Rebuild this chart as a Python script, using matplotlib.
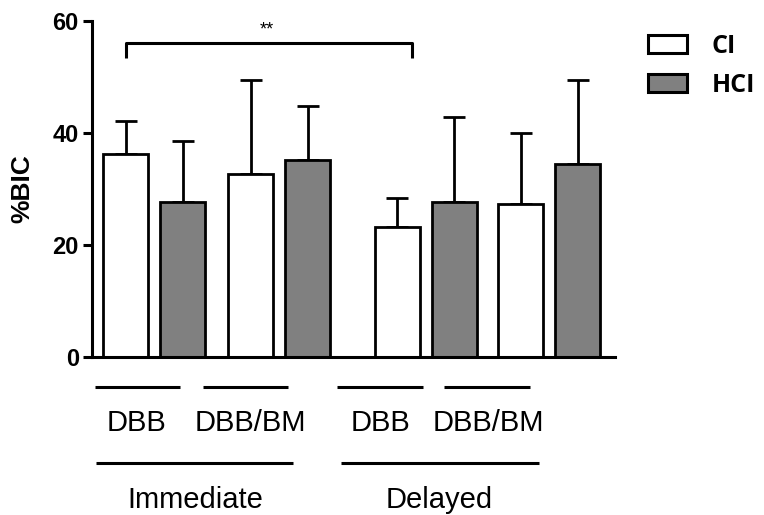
import numpy as np
import matplotlib
matplotlib.use("Agg")
import matplotlib.pyplot as plt
from matplotlib.patches import Patch
from matplotlib.transforms import blended_transform_factory

# %BIC means and SD (upper error only) per condition
subgroups = ["DBB", "DBB/BM", "DBB", "DBB/BM"]
timings = ["Immediate", "Delayed"]
series_names = ["CI", "HCI"]
ci_mean = [36.2, 32.6, 23.1, 27.3]
ci_sd = [6.0, 16.8, 5.3, 12.7]
hci_mean = [27.6, 35.2, 27.6, 34.5]
hci_sd = [11.0, 9.6, 15.2, 14.9]
yticks = [0, 20, 40, 60]

plt.rcParams["font.family"] = ["Liberation Sans", "DejaVu Sans"]

fig = plt.figure(figsize=(7.64, 5.15), dpi=100)
ax = fig.add_axes([0.1204, 0.3074, 0.6846, 0.6518])

centers = np.array([0.0, 2.19, 4.76, 6.93])
off = 0.5
width = 0.79
lw = 2.0

err_kw = dict(elinewidth=lw, capthick=lw, ecolor="black", zorder=1)
ax.bar(centers - off, ci_mean, width, yerr=[np.zeros(4), ci_sd], capsize=8,
       color="white", edgecolor="black", linewidth=lw, error_kw=err_kw, zorder=2)
ax.bar(centers + off, hci_mean, width, yerr=[np.zeros(4), hci_sd], capsize=8,
       color="#808080", edgecolor="black", linewidth=lw, error_kw=err_kw, zorder=2)

ax.set_xlim(-1.096, 8.08)
ax.set_ylim(0, 60)
ax.set_yticks(yticks)
ax.set_xticks([])
for s in ["top", "right"]:
    ax.spines[s].set_visible(False)
for s in ["left", "bottom"]:
    ax.spines[s].set_linewidth(2.2)
ax.tick_params(axis="y", length=6.5, width=2.2, pad=3, labelsize=17)
for t in ax.get_yticklabels():
    t.set_fontweight("bold")
ax.set_ylabel("%BIC", fontsize=19, fontweight="bold")
ax.yaxis.set_label_coords(-0.11, 0.5)

# significance bracket between immediate DBB CI and delayed group
bx0 = centers[0] - off
bx1 = 4.52
ax.plot([bx0, bx0, bx1, bx1], [53.4, 56.1, 56.1, 53.4], color="black",
        lw=2.2, clip_on=False, solid_capstyle="butt")
ax.text(1.97, 58.4, "**", ha="center", va="center", fontsize=13, clip_on=False)

# category labels under the axis
tr = blended_transform_factory(ax.transData, ax.transAxes)
sub_lines = [(-1.044, 0.447), (0.846, 2.347), (3.196, 4.705), (5.079, 6.588)]
sub_text_x = [-0.32, 1.69, 3.97, 5.85]
for (a, b), tx, lab in zip(sub_lines, sub_text_x, subgroups):
    ax.plot([a, b], [-0.0894, -0.0894], color="black", lw=2.2, transform=tr,
            clip_on=False, solid_capstyle="butt")
    ax.text(tx, -0.198, lab, transform=tr, ha="center", va="center", fontsize=21)

time_lines = [(-1.026, 2.435), (3.272, 6.746)]
time_text_x = [0.71, 4.99]
for (a, b), tx, lab in zip(time_lines, time_text_x, timings):
    ax.plot([a, b], [-0.3158, -0.3158], color="black", lw=2.2, transform=tr,
            clip_on=False, solid_capstyle="butt")
    ax.text(tx, -0.427, lab, transform=tr, ha="center", va="center", fontsize=21)

handles = [Patch(facecolor="white", edgecolor="black", linewidth=2.2),
           Patch(facecolor="#808080", edgecolor="black", linewidth=2.2)]
leg = fig.legend(handles, series_names, loc="upper left",
                 bbox_to_anchor=(648 / 764, 1 - 34 / 515), frameon=False,
                 prop=dict(family=["Open Sans", "DejaVu Sans"], weight="bold", size=18),
                 handlelength=1.55, handleheight=0.75, handletextpad=1.0,
                 labelspacing=0.55, borderpad=0, borderaxespad=0)

fig.savefig("out.png", dpi=100)
